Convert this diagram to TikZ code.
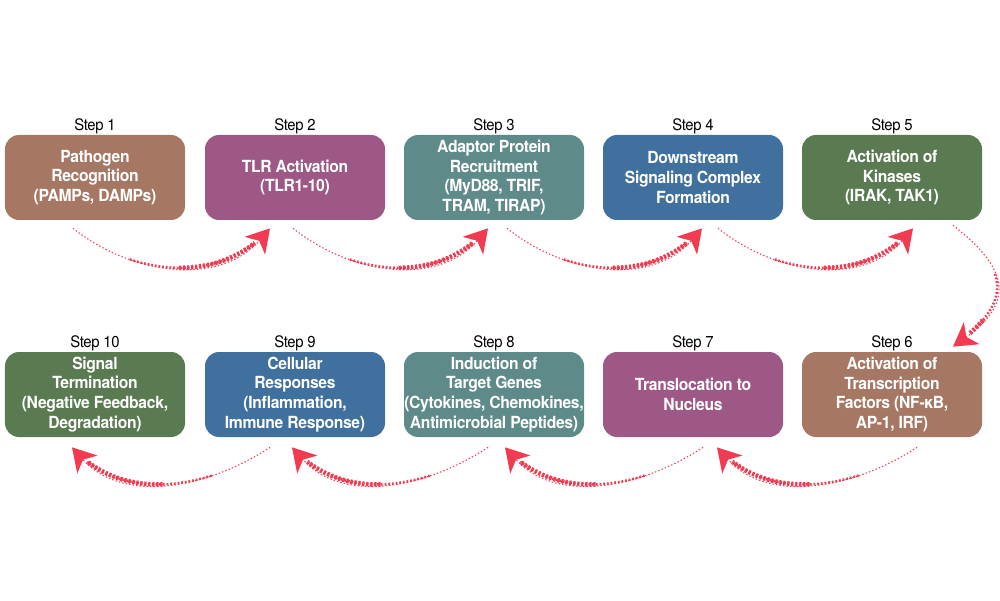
\documentclass[tikz,border=0pt]{standalone}
\usepackage{fontspec}
\setmainfont{TeX Gyre Heros}[FakeStretch=0.94,LetterSpace=-2]
\usetikzlibrary{arrows.meta,decorations}
\definecolor{boxbrown}{HTML}{A67864}
\definecolor{boxplum}{HTML}{9E5886}
\definecolor{boxteal}{HTML}{5E8B89}
\definecolor{boxblue}{HTML}{40709E}
\definecolor{boxgreen}{HTML}{5A7B52}
\definecolor{flowred}{HTML}{F23A50}

\begin{document}
\begin{tikzpicture}[
    stepbox/.style={rectangle, rounded corners=0.28cm, minimum width=3.6cm, minimum height=1.7cm, inner sep=0pt,
        align=center, text=white, font=\fontsize{9.5}{11.3}\selectfont\bfseries, label distance=1pt},
    steplabel/.style={inner sep=0pt, text=black, font=\fontsize{9}{10}\selectfont\mdseries},
    flow/.style={flowred, line width=0.6pt, dash pattern=on 0.8pt off 1.2pt,
        -{Stealth[length=0.46cm,width=0.54cm,inset=0.13cm]},
        postaction={draw, arrows=-, decorate, decoration={curveto, pre=moveto, pre length=1.3cm, post=moveto, post length=0.42cm},
            line width=1.4pt, dash pattern=on 1pt off 1.1pt},
        postaction={draw, arrows=-, decorate, decoration={curveto, pre=moveto, pre length=2.3cm, post=moveto, post length=0.42cm},
            line width=2.6pt, dash pattern=on 1.3pt off 1pt}}
    ]
    \useasboundingbox (0,0) rectangle (20,12);

    % top row
    \node [stepbox, fill=boxbrown, label={[steplabel]above:Step 1}] (s1) at (1.9,8.45) {Pathogen\\Recognition\\(PAMPs, DAMPs)};
    \node [stepbox, fill=boxplum, label={[steplabel]above:Step 2}] (s2) at (5.9,8.45) {TLR Activation\\(TLR1-10)};
    \node [stepbox, fill=boxteal, label={[steplabel]above:Step 3}] (s3) at (9.88,8.45) {Adaptor Protein\\Recruitment\\(MyD88, TRIF,\\TRAM, TIRAP)};
    \node [stepbox, fill=boxblue, label={[steplabel]above:Step 4}] (s4) at (13.86,8.45) {Downstream\\Signaling Complex\\Formation};
    \node [stepbox, fill=boxgreen, label={[steplabel]above:Step 5}] (s5) at (17.84,8.45) {Activation of\\Kinases\\(IRAK, TAK1)};

    % bottom row
    \node [stepbox, fill=boxbrown, label={[steplabel]above:Step 6}] (s6) at (17.84,4.11) {Activation of\\Transcription\\Factors (NF-κB,\\AP-1, IRF)};
    \node [stepbox, fill=boxplum, label={[steplabel]above:Step 7}] (s7) at (13.86,4.11) {Translocation to\\Nucleus};
    \node [stepbox, fill=boxteal, label={[steplabel]above:Step 8}] (s8) at (9.88,4.11) {Induction of\\Target Genes\\(Cytokines, Chemokines,\\Antimicrobial Peptides)};
    \node [stepbox, fill=boxblue, label={[steplabel]above:Step 9}] (s9) at (5.9,4.11) {Cellular\\Responses\\(Inflammation,\\Immune Response)};
    \node [stepbox, fill=boxgreen, label={[steplabel]above:Step 10}] (s10) at (1.9,4.11) {Signal\\Termination\\(Negative Feedback,\\Degradation)};

    % arrows, top row
    \draw [flow] ([xshift=-0.44cm,yshift=-0.16cm]s1.south) .. controls +(1.2,-0.95) and +(-1.0,-1.15) .. ([xshift=-0.5cm,yshift=-0.16cm]s2.south);
    \draw [flow] ([xshift=-0.04cm,yshift=-0.16cm]s2.south) .. controls +(1.2,-0.95) and +(-1.0,-1.15) .. ([xshift=-0.12cm,yshift=-0.16cm]s3.south);
    \draw [flow] ([xshift=0.26cm,yshift=-0.16cm]s3.south) .. controls +(1.2,-0.95) and +(-1.0,-1.15) .. ([xshift=0.18cm,yshift=-0.16cm]s4.south);
    \draw [flow] ([xshift=0.5cm,yshift=-0.16cm]s4.south) .. controls +(1.2,-0.95) and +(-1.0,-1.15) .. ([xshift=0.42cm,yshift=-0.16cm]s5.south);

    % down the right side
    \draw [flow] ([xshift=1.22cm,yshift=-0.1cm]s5.south) .. controls +(1.1,-0.85) and +(1.25,0.9) .. ([xshift=1.22cm,yshift=0.1cm]s6.north);

    % arrows, bottom row
    \draw [flow] ([xshift=0.5cm,yshift=-0.2cm]s6.south) .. controls +(-1.3,-0.85) and +(1.0,-1.12) .. ([xshift=0.48cm,yshift=-0.2cm]s7.south);
    \draw [flow] ([xshift=0.2cm,yshift=-0.2cm]s7.south) .. controls +(-1.3,-0.85) and +(1.0,-1.12) .. ([xshift=0.22cm,yshift=-0.2cm]s8.south);
    \draw [flow] ([xshift=-0.12cm,yshift=-0.2cm]s8.south) .. controls +(-1.3,-0.85) and +(1.0,-1.12) .. ([xshift=-0.06cm,yshift=-0.2cm]s9.south);
    \draw [flow] ([xshift=-0.5cm,yshift=-0.2cm]s9.south) .. controls +(-1.3,-0.85) and +(1.0,-1.12) .. ([xshift=-0.46cm,yshift=-0.2cm]s10.south);
\end{tikzpicture}
\end{document}
